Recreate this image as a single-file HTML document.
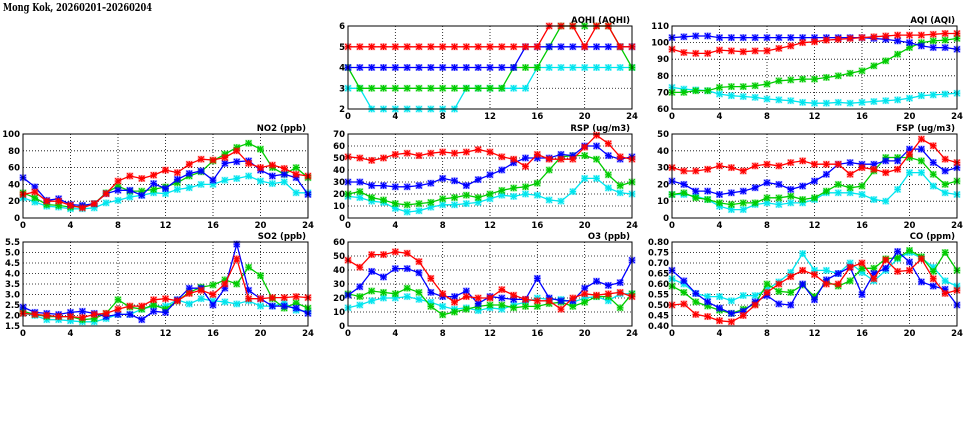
<!DOCTYPE html>
<html><head><meta charset="utf-8">
<style>
html,body{margin:0;padding:0;background:#fff;}
svg{display:block;font-family:"DejaVu Sans","Liberation Sans",sans-serif;}
</style></head>
<body>
<svg id="chart" width="975" height="447" viewBox="0 0 975 447">
<text x="3" y="11" font-size="11" font-weight="bold" textLength="149" lengthAdjust="spacingAndGlyphs" font-family="DejaVu Serif, Liberation Serif, serif">Mong Kok, 20260201–20260204</text>
</svg>
<script>
const hours = [0,1,2,3,4,5,6,7,8,9,10,11,12,13,14,15,16,17,18,19,20,21,22,23,24];
const xTicks = [0,4,8,12,16,20,24];
const seriesColors = ["#00e5ee","#00cc00","#0000ff","#ff0000"];

const aqhiCyan  = [3,3,2,2,2,2,2,2,2,2,3,3,3,3,3,3,4,4,4,4,4,4,4,4,4];
const aqhiGreen = [4,3,3,3,3,3,3,3,3,3,3,3,3,3,4,4,4,5,6,6,6,6,6,5,4];
const aqhiBlue  = [4,4,4,4,4,4,4,4,4,4,4,4,4,4,4,5,5,5,5,5,5,5,5,5,5];
const aqhiRed   = [5,5,5,5,5,5,5,5,5,5,5,5,5,5,5,5,5,6,6,6,5,6,6,5,5];
const aqhiTicks = [2,3,4,5,6];

const aqiCyan  = [73,72,71.5,71,69,68,67.5,67,66,65.5,65,64,63.5,63.5,64,63.5,64,64.5,65,65.5,66.5,68,68.5,69,69.5];
const aqiGreen = [70,70,71,71,73,73.5,73.5,74,75,77,77.5,78,78,79,80,81.5,83,86,89,93,97,100,101,101.5,102.5];
const aqiBlue  = [103,103.5,104,104,103,103,103,103,103,103,103,103,103,103,103,103,103,102.5,102,101,100,98,97,97,96];
const aqiRed   = [96,94,93.5,93.5,95.5,95,94.5,95,95,96.5,98,100,100.5,101.5,102,102.5,103,103.5,104,104.5,104.5,104.5,105,105.5,105.5];
const aqiTicks = [60,70,80,90,100,110];

const no2Cyan  = [24,19,14,13,11,11,12,18,21,25,27,30,29,34,36,40,40,45,47,50,44,41,43,30,30];
const no2Green = [30,24,16,15,13,14,17,30,38,32,32,34,37,42,50,55,68,76,84,89,82,60,52,60,48];
const no2Blue  = [48,37,21,23,16,15,17,29,33,33,27,41,35,46,53,56,45,65,67,68,57,50,52,48,28];
const no2Red   = [28,31,20,20,15,12,17,29,44,50,47,51,57,54,64,70,69,72,80,65,60,63,59,52,50];
const no2Ticks = [0,20,40,60,80,100];

const rspCyan  = [18,17,14,13,8,5,6,9,11,11,12,13,16,19,18,20,19,15,14,22,33,33,25,21,20];
const rspGreen = [20,22,17,15,12,11,12,13,16,17,19,17,20,23,25,26,29,40,51,52,52,49,36,27,30];
const rspBlue  = [30,30,27,27,26,26,27,29,33,31,27,32,36,40,46,50,50,50,53,52,60,60,52,49,51];
const rspRed   = [51,50,48,50,53,54,52,54,55,54,55,57,55,51,49,43,53,49,49,49,59,69,62,51,49];
const rspTicks = [0,10,20,30,40,50,60,70];

const fspCyan  = [14,14,13,11,7,5,5,8,9,8,9,9,11,15,15,15,14,11,10,17,27,27,19,15,14];
const fspGreen = [14,15,12,11,9,8,9,9,12,12,13,11,12,16,20,18,19,28,36,36,36,34,26,20,22];
const fspBlue  = [22,20,16,16,14,15,16,18,21,20,17,19,22,26,32,33,32,32,34,34,41,41,33,28,30];
const fspRed   = [30,28,28,29,31,30,28,31,32,31,33,34,32,32,32,26,30,29,27,29,38,47,43,35,33];
const fspTicks = [0,10,20,30,40,50];

const so2Cyan  = [2.1,2.0,1.8,1.8,1.75,1.7,1.7,1.85,2.05,2.05,2.3,2.45,2.45,2.75,2.55,2.8,2.7,2.65,2.55,2.7,2.45,2.45,2.6,2.25,2.2];
const so2Green = [2.2,2.05,1.95,1.95,1.95,1.8,1.85,2.1,2.75,2.4,2.3,2.5,2.3,2.7,3.1,3.35,3.45,3.7,3.5,4.3,3.9,2.8,2.35,2.6,2.35];
const so2Blue  = [2.4,2.15,2.1,2.05,2.15,2.2,2.1,1.95,2.05,2.05,1.8,2.2,2.15,2.75,3.3,3.3,2.5,3.3,5.4,3.2,2.8,2.45,2.45,2.35,2.1];
const so2Red   = [2.1,2.05,2.0,1.95,1.95,1.9,2.05,2.1,2.3,2.45,2.45,2.75,2.8,2.7,3.05,3.2,3.0,3.5,4.7,2.8,2.8,2.85,2.85,2.9,2.85];
const so2Ticks = [1.5,2.0,2.5,3.0,3.5,4.0,4.5,5.0,5.5];

const o3Cyan  = [13,15,18,20,20,21,19,17,14,12,13,11,13,12,15,17,20,19,19,17,20,21,18,23,23];
const o3Green = [23,21,25,24,23,27,24,14,8,10,12,14,15,15,13,14,14,16,17,14,17,21,21,13,23];
const o3Blue  = [22,28,39,35,41,41,38,24,21,21,25,16,21,20,19,19,34,20,18,18,27,32,29,31,47];
const o3Red   = [47,42,51,51,53,52,46,34,23,17,21,20,20,26,22,19,18,18,12,20,23,22,23,24,21];
const o3Ticks = [0,10,20,30,40,50,60];

const coCyan  = [.625,.60,.555,.54,.54,.52,.545,.545,.575,.61,.655,.745,.665,.665,.65,.70,.655,.615,.665,.72,.75,.725,.68,.615,.59];
const coGreen = [.59,.56,.515,.495,.475,.46,.48,.505,.60,.565,.56,.595,.54,.61,.59,.615,.675,.675,.72,.725,.76,.73,.66,.75,.665];
const coBlue  = [.665,.615,.555,.515,.485,.46,.47,.515,.545,.505,.50,.60,.525,.62,.65,.68,.55,.65,.675,.755,.705,.61,.59,.575,.50];
const coRed   = [.50,.505,.455,.445,.425,.42,.45,.50,.56,.60,.635,.665,.645,.60,.60,.68,.70,.625,.715,.66,.665,.72,.625,.555,.57];
const coTicks = [0.40,0.45,0.50,0.55,0.60,0.65,0.70,0.75,0.80];

const NS = "http://www.w3.org/2000/svg";
const svg = document.getElementById("chart");
function mk(tag, attrs, parent){
  const e = document.createElementNS(NS, tag);
  for (const k in attrs) e.setAttribute(k, attrs[k]);
  (parent||svg).appendChild(e);
  return e;
}

function panel(name, title, box, yTicks, dec, series){
  const [x0,x1,y0,y1] = box;
  const ymin = yTicks[0], ymax = yTicks[yTicks.length-1];
  const sx = v => x0 + (v - 0) / 24 * (x1 - x0);
  const sy = v => y1 - (v - ymin) / (ymax - ymin) * (y1 - y0);
  const g = mk("g", {});
  
  
  xTicks.forEach(t => {
    if (t > 0 && t < 24) {
      const l = mk("line", {x1:sx(t),x2:sx(t),y1:y0,y2:y1,stroke:"#000","stroke-width":0.8,"stroke-dasharray":"1,2"}, g);
      
      
    }
    const tl = mk("text", {x:sx(t), y:y1+10, "font-size":8.5, "font-weight":"bold", "text-anchor":"middle"}, g);
    tl.textContent = t;
    
    
  });
  yTicks.forEach(t => {
    if (t > ymin && t < ymax) {
      const l = mk("line", {x1:x0,x2:x1,y1:sy(t),y2:sy(t),stroke:"#000","stroke-width":0.8,"stroke-dasharray":"1,2"}, g);
      
      
    }
    const tl = mk("text", {x:x0-3, y:sy(t)+3, "font-size":8.5, "font-weight":"bold", "text-anchor":"end"}, g);
    tl.textContent = t.toFixed(dec);
    
    
  });
  const tt = mk("text", {x:x1-2, y:y0-3, "font-size":8.5, "font-weight":"bold", "text-anchor":"end"}, g);
  tt.textContent = title;
  
  
  series.forEach((vals, si) => {
    const c = seriesColors[si];
    const pts = vals.map((v,i) => sx(hours[i]).toFixed(1) + "," + sy(v).toFixed(1)).join(" ");
    const pl = mk("polyline", {points:pts, fill:"none", stroke:c, "stroke-width":1.3}, g);
    
    
    vals.forEach((v,i) => {
      const cx = sx(hours[i]), cy = sy(v);
      const m = mk("g", {}, g);
      
      
      mk("rect", {x:cx-3.5, y:cy-3.5, width:7, height:7, fill:c, opacity:0.3}, m);
      mk("path", {d:`M${cx-2.8},${cy-2.8}L${cx+2.8},${cy+2.8}M${cx-2.8},${cy+2.8}L${cx+2.8},${cy-2.8}M${cx-3.2},${cy}L${cx+3.2},${cy}M${cx},${cy-3.2}L${cx},${cy+3.2}`, stroke:c, "stroke-width":1.2, fill:"none"}, m);
    });
  });
  const b = mk("rect", {x:x0, y:y0, width:x1-x0, height:y1-y0, fill:"none", stroke:"#000", "stroke-width":1}, g);
  
  
}

panel("aqhi", "AQHI (AQHI)", [348,632,26,109], aqhiTicks, 0, [aqhiCyan,aqhiGreen,aqhiBlue,aqhiRed]);
panel("aqi", "AQI (AQI)", [672,957,26,109], aqiTicks, 0, [aqiCyan,aqiGreen,aqiBlue,aqiRed]);
panel("no2", "NO2 (ppb)", [23,308,134,218], no2Ticks, 0, [no2Cyan,no2Green,no2Blue,no2Red]);
panel("rsp", "RSP (ug/m3)", [348,632,134,218], rspTicks, 0, [rspCyan,rspGreen,rspBlue,rspRed]);
panel("fsp", "FSP (ug/m3)", [672,957,134,218], fspTicks, 0, [fspCyan,fspGreen,fspBlue,fspRed]);
panel("so2", "SO2 (ppb)", [23,308,242,326], so2Ticks, 1, [so2Cyan,so2Green,so2Blue,so2Red]);
panel("o3", "O3 (ppb)", [348,632,242,326], o3Ticks, 0, [o3Cyan,o3Green,o3Blue,o3Red]);
panel("co", "CO (ppm)", [672,957,242,326], coTicks, 2, [coCyan,coGreen,coBlue,coRed]);
</script>
</body></html>
